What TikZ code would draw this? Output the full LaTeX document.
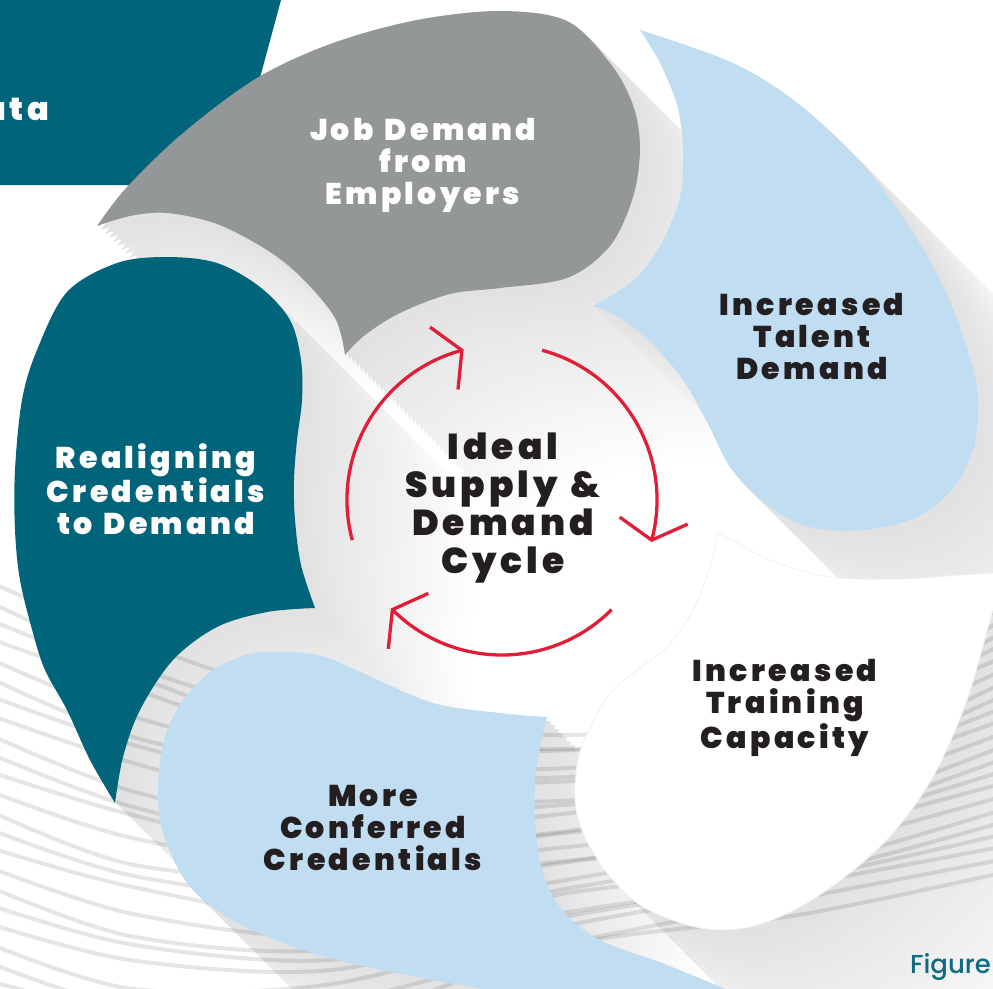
\documentclass[tikz,border=0pt]{standalone}
\usepackage{fontspec}
\newfontfamily\pf{Poppins Black}[LetterSpace=11, WordSpace=1.3]
\newfontfamily\pfr{Poppins Medium}
\definecolor{tealp}{HTML}{00647A}
\definecolor{grayp}{HTML}{939798}
\definecolor{bluep}{HTML}{C1DDF1}
\definecolor{darktxt}{HTML}{231F20}
\definecolor{redc}{HTML}{E01E37}
\definecolor{figc}{HTML}{0F6B80}
\tikzset{
  pet/.style={font=\pf\fontsize{30}{32}\selectfont, align=center, inner sep=0pt},
  hubtxt/.style={font=\pf\fontsize{36}{37.7}\selectfont, align=center, inner sep=0pt, text=darktxt},
  redarc/.style={draw=redc, line width=3.3pt},
  stripe/.style={draw=black, opacity=0.10, line width=4pt},
}
\def\PBlueR{plot[smooth,tension=0.55] coordinates {(640,30) (733,63) (800,105) (867,169) (917,239) (950,302) (973,369) (978,404) (973,450) (950,492) (910,520) (850,531) (800,524) (760,499) (730,467) (707,422) (683,380) (650,341) (617,316) (593,306)} -- plot[smooth,tension=0.55] coordinates {(593,306) (633,281) (660,246) (680,197) (683,148) (677,105) (660,63) (640,30)} -- cycle}
\def\PGray{plot[smooth,tension=0.55] coordinates {(97,226) (127,187) (183,133) (257,78) (333,43) (417,20) (500,11) (567,21) (610,63) (633,105) (640,148) (633,197) (610,246) (567,278) (500,288) (450,294) (400,313) (365,335) (345,355)} -- plot[smooth,tension=0.55] coordinates {(345,355) (335,318) (302,278) (267,250) (217,224) (167,213) (130,216) (97,226)} -- cycle}
\def\PTeal{plot[smooth,tension=0.55] coordinates {(115,803) (90,760) (67,710) (45,670) (33,633) (20,580) (15,530) (15,470) (22,400) (37,350) (67,292) (117,263) (167,257) (217,263) (260,287) (290,320) (301,360) (302,400) (297,440) (294,480) (295,520) (301,565) (315,608)} -- plot[smooth,tension=0.55] coordinates {(315,608) (267,612) (217,627) (173,660) (140,710) (123,757) (115,803)} -- cycle}
\def\PBlueB{plot[smooth,tension=0.55] coordinates {(547,717) (500,713) (433,703) (367,675) (325,657) (290,652) (250,654) (213,670) (183,700) (164,740) (158,790) (163,833) (187,883) (227,917) (283,943) (350,963) (433,980) (520,995) (600,1005)} -- (740,995) -- plot[smooth,tension=0.55] coordinates {(740,995) (667,965) (600,940) (562,910) (542,870) (535,820) (536,770) (547,717)} -- cycle}
\def\PWhite{plot[smooth,tension=0.55] coordinates {(718,532) (770,560) (830,577) (900,579) (960,575) (1010,572)} -- (1010,595) -- plot[smooth,tension=0.55] coordinates {(1000,595) (993,610) (967,700) (933,777) (893,833) (850,873) (800,907) (750,927) (700,928) (643,907) (607,873) (583,833) (575,800) (578,760) (590,727) (610,693) (633,673) (667,647) (693,610) (710,567) (718,532)} -- cycle}
\begin{document}
\begin{tikzpicture}[x=1pt,y=-1pt]
\useasboundingbox (0,0) rectangle (993,988);
\fill[white] (0,0) rectangle (993,988);
% top-left teal panel
\fill[tealp] (0,0) -- (281,0) -- (231,185) -- (0,185) -- cycle;
% long shadows
\foreach \k in {44,43,...,1}{
  \pgfmathsetmacro\sh{11.5*(1-(\k-1)/44)}
  \begin{scope}[shift={(4*\k,4*\k)}]
    \fill[black!\sh] \PBlueR;
    \fill[black!\sh] \PGray;
    \fill[black!\sh] \PTeal;
    \fill[black!\sh] \PBlueB;
    \fill[black!\sh] \PWhite;
  \end{scope}
}
% background stripes
\foreach \i in {0,...,21}{
  \pgfmathsetmacro\tpar{\i/21}
  \pgfmathsetmacro\ya{578+400*\tpar}
  \pgfmathsetmacro\yb{640+380*\tpar+7*sin(97*\i)}
  \pgfmathsetmacro\yc{705+315*\tpar+6*sin(53*\i)}
  \pgfmathsetmacro\yd{735+215*\tpar+5*sin(131*\i)}
  \pgfmathsetmacro\ye{705+205*\tpar+6*sin(71*\i)}
  \pgfmathsetmacro\yf{600+270*\tpar}
  \draw[stripe] plot[smooth] coordinates {(-20,\ya) (130,\yb) (330,\yc) (560,\yd) (800,\ye) (1015,\yf)};
}
% petals
\fill[bluep] \PBlueR;
\fill[grayp] \PGray;
\fill[tealp] \PTeal;
\fill[bluep] \PBlueB;
\fill[white, draw=black!6, line width=0.8pt] \PWhite;
% red cycle arrows
\coordinate (C) at (502,500);
\coordinate (T1) at (651.7,540.1);
\coordinate (T2) at (392.4,609.6);
\coordinate (T3) at (461.9,350.3);
\draw[redarc] (C) ++(-75:155) arc[start angle=-75, end angle=15, radius=155];
\draw[redarc] (C) ++(45:155) arc[start angle=45, end angle=135, radius=155];
\draw[redarc] (C) ++(165:155) arc[start angle=165, end angle=255, radius=155];
\draw[redarc] (T1) ++(-32,-23) -- (T1) -- ++(36,-16);
\draw[redarc] (T2) ++(35.9,-16.2) -- (T2) -- ++(-4.1,39.2);
\draw[redarc] (T3) ++(-3.9,39.2) -- (T3) -- ++(-31.9,-23.2);
% texts
\node[pet, text=white, anchor=base east] (ata) at (49,120) {\fontsize{32}{34}\selectfont ata};
\node[pet, text=white] (jd) at (423,165) {Job Demand\\from\\Employers};
\node[pet, text=darktxt] (itd) at (812,336) {Increased\\Talent\\Demand};
\node[pet, text=darktxt] (itc) at (785,708) {Increased\\Training\\Capacity};
\node[pet, text=darktxt] (mcc) at (373,828) {More\\Conferred\\Credentials};
\node[pet, text=white] (rcd) at (156,489) {Realigning\\Credentials\\to Demand};
\node[hubtxt] (hub) at (503,508) {Ideal\\Supply \&\\Demand\\Cycle};
\node[font=\pfr\fontsize{26}{28}\selectfont, text=figc, anchor=base west, inner sep=0pt] (fig) at (910,973) {Figure};
\end{tikzpicture}
\end{document}
